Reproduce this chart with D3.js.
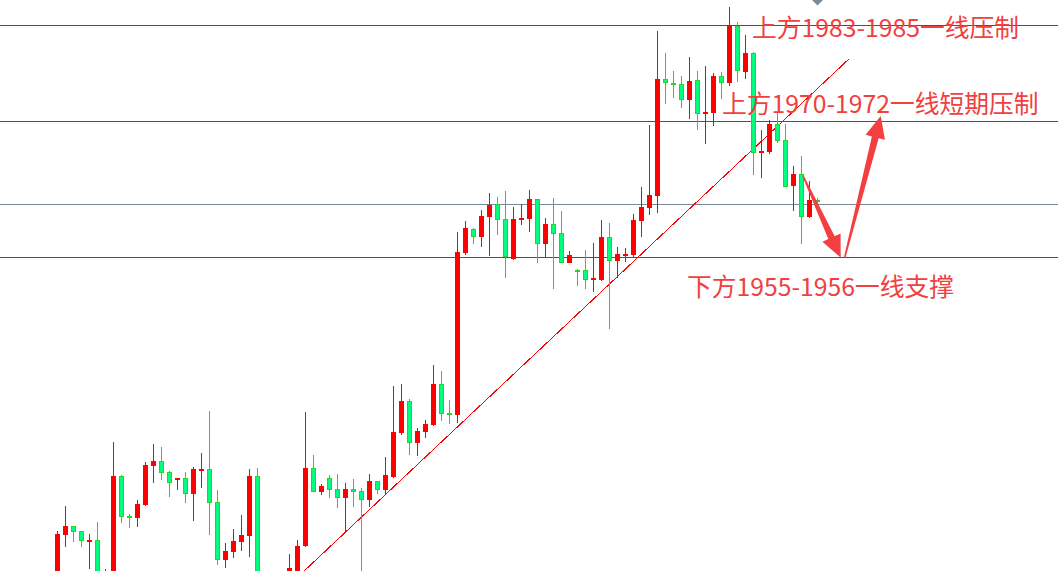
<!DOCTYPE html>
<html><head><meta charset="utf-8">
<script src="https://cdn.jsdelivr.net/npm/d3@7"></script>
<style>html,body{margin:0;padding:0;background:#fff;overflow:hidden}</style>
</head><body><svg id="c" width="1058" height="571"></svg>
<script>
const opens=[1913.3,1920.1,1921.3,1920.6,1919.3,1919.5,1912.6,1913,1927.5,1922.5,
1922.3,1923.9,1928.8,1929.4,1928,1927,1927.3,1925.3,1928.1,1928.4,
1924.3,1917,1918,1919.3,1920,1927.5,1912,1910.5,1912.5,1914.5,
1915.1,1918.8,1928.5,1925.5,1927.3,1925.9,1924.8,1925.9,1925.6,1924.5,
1926.9,1925.8,1927.4,1932.9,1936.9,1931.6,1933,1933.9,1939,1935.4,
1935.1,1955.4,1958.4,1957.4,1959.9,1961.5,1959.6,1954.6,1959.5,1959.6,
1962.1,1956.5,1959,1957.9,1954.1,1953.3,1953.3,1952,1952,1957.4,
1954.4,1955.1,1955.1,1959.4,1961,1962.5,1977.1,1976.6,1976.5,1974.5,
1977,1972.8,1972.9,1977.5,1976.6,1983.8,1978,1980.4,1967.9,1968,
1971.5,1969.5,1963.8,1965.3,1959.9,1962];
const highs=[1920.6,1923.8,1921.3,1920.6,1920.3,1921.8,1915.9,1931.8,1927.6,1922.8,
1924.5,1929.3,1931.5,1931.1,1928.1,1927.3,1928,1928.6,1930.4,1935.6,
1925.8,1919.1,1920.9,1922.6,1928.4,1928.5,1912.6,1913.3,1914.8,1917.8,
1919.5,1935.5,1930.1,1926.5,1927.6,1927.8,1926.6,1927.1,1926,1927.8,
1926.9,1929.9,1938.8,1939,1937.1,1933.5,1934.5,1941.4,1940.6,1937,
1958,1959.4,1958.5,1960.8,1962.9,1962.4,1963.1,1961.1,1961.5,1963.3,
1962.1,1959.8,1962.3,1960.6,1955.6,1953.4,1955.8,1956.6,1959.5,1959.1,
1956.1,1956,1960.3,1963.6,1971.4,1983.1,1980.4,1978.1,1977.5,1979.9,
1978.1,1978.8,1977.9,1978,1986.1,1984.3,1982.6,1980.5,1970.8,1972,
1972.9,1971.5,1966.3,1967.5,1964.4,1962.3];
const lows=[1912,1918.6,1919.3,1918.6,1915.9,1912,1912,1912,1921.6,1921,
1921.1,1923.8,1926.6,1927,1924.9,1925.8,1924.1,1921.9,1926,1920.1,
1916.4,1916,1917.3,1918.1,1917.4,1910.8,1908.9,1909.5,1912,1913.3,
1914.5,1918.6,1925.5,1925.1,1924.8,1923.5,1920.4,1923.6,1912,1923.6,
1925.3,1925.3,1927.3,1932.6,1930.1,1930,1932.3,1933.8,1934.4,1934,
1934.1,1955.1,1956.5,1956.1,1955,1957.6,1952.3,1954.5,1958.9,1958,
1954.1,1954.9,1950.9,1954.1,1954.1,1951.3,1950.9,1950.5,1951.9,1945.9,
1952.3,1954.3,1954.8,1957.4,1960.1,1960.4,1974,1974.8,1973.5,1972.1,
1970.8,1969,1971.3,1974.6,1976.3,1976.8,1977.1,1965.1,1964.8,1967.8,
1969.1,1963.6,1960.6,1956.5,1959.8,1961.5];
const closes=[1920.3,1921.3,1920.5,1919.4,1919.5,1913.3,1915.1,1927.5,1922.4,1922.3,
1924,1928.9,1929.4,1927.9,1926.6,1927.3,1925.3,1928.4,1928.4,1924.1,
1917,1918.1,1919.4,1920.1,1927.5,1912,1910.1,1912,1914.3,1916,
1918.8,1928.5,1925.5,1926.3,1925.8,1924.8,1925.9,1925.5,1924.5,1926.9,
1925.8,1927.6,1933,1936.9,1931.6,1933.1,1934,1939,1935.3,1935.1,
1955.5,1958.5,1957.4,1960,1961.4,1959.5,1954.9,1959.6,1959.8,1962.1,
1956.5,1959,1957.8,1954.1,1955.1,1953.1,1952,1952.3,1957.4,1954.4,
1955.3,1955.3,1959.5,1961.1,1962.6,1977.1,1976.6,1976.4,1974.5,1976.9,
1972.8,1973,1977.5,1976.6,1983.9,1978.1,1980.4,1967.9,1968.1,1971.5,
1969.4,1963.6,1965.3,1959.9,1962,1961.8];

const levels=[1983.9,1971.9,1961.5,1954.9];
const levelKinds=["r","r","g","r"];
const labels=["上方1983-1985一线压制","上方1970-1972一线短期压制","下方1955-1956一线支撑"];
const labelLevels=[1983.9,1971.9,1954.9];
const trendPts=[[30.8,1915.6],[98.9,1979.6]];
const arrowDown=[[93.2,1965],[97.9,1954.8]];
const arrowUp=[[98.4,1954.8],[102.9,1972.5]];

const W=1058,H=571;
const svg=d3.select("#c");
const x=d3.scaleLinear().domain([0,95]).range([57.5,817.5]);
const y=d3.scaleLinear().domain([1987,1915.625]).range([0,571]);

const RED="#ff0000", GFILL="#00ff7f", GSTROKE="#1fd81f", LINE_RED="#dc1414", LINE_GREY="#7a8894", TXT="#f04040";

const data=opens.map((o,i)=>({i,o,h:highs[i],l:lows[i],c:closes[i],up:closes[i]>=o}));

svg.append("g").selectAll("line").data(levels).join("line")
  .attr("x1",0).attr("x2",W)
  .attr("y1",d=>Math.round(y(d))+0.5).attr("y2",d=>Math.round(y(d))+0.5)
  .attr("stroke",(d,i)=>levelKinds[i]==="g"?LINE_GREY:LINE_RED).attr("stroke-width",1);

svg.append("path").datum(trendPts)
  .attr("d",d3.line().x(d=>x(d[0])).y(d=>y(d[1])))
  .attr("stroke",RED).attr("stroke-width",1).attr("fill","none").attr("shape-rendering","crispEdges");

const g=svg.append("g");
g.selectAll("line.w").data(data).join("line").attr("class","w")
  .attr("x1",d=>x(d.i)).attr("x2",d=>x(d.i))
  .attr("y1",d=>Math.round(y(d.h))).attr("y2",d=>Math.round(y(d.l)))
  .attr("stroke",d=>d.up?RED:GSTROKE).attr("stroke-width",1);
g.selectAll("rect.b").data(data).join("rect").attr("class","b")
  .each(function(d){
    const t=Math.round(y(Math.max(d.o,d.c))), b=Math.round(y(Math.min(d.o,d.c)));
    const hgt=Math.max(b-t,2);
    const el=d3.select(this);
    if(d.up){
      el.attr("x",x(d.i)-2.5).attr("width",5).attr("y",t).attr("height",hgt).attr("fill",RED);
    } else {
      el.attr("x",x(d.i)-2).attr("width",4).attr("y",t+0.5).attr("height",hgt-1)
        .attr("fill",GFILL).attr("stroke",GSTROKE).attr("stroke-width",1);
    }
  });

const lx=x(data.length-1);
svg.append("path").attr("d",`M${lx-5.5},0L${lx+5.5},0L${lx},5.5Z`).attr("fill","#7d8a96");

function arrowPath(p0,p1){
  const a=[x(p0[0]),y(p0[1])], b=[x(p1[0]),y(p1[1])];
  const dx=b[0]-a[0], dy=b[1]-a[1], L=Math.hypot(dx,dy);
  const ux=dx/L, uy=dy/L, nx=-uy, ny=ux;
  const hl=22, hw=10, sw=3.5, tw=0.8;
  const bc=[b[0]-ux*hl,b[1]-uy*hl];
  const pts=[[a[0]+nx*tw,a[1]+ny*tw],[bc[0]+nx*sw,bc[1]+ny*sw],[bc[0]+nx*hw,bc[1]+ny*hw],b,
    [bc[0]-nx*hw,bc[1]-ny*hw],[bc[0]-nx*sw,bc[1]-ny*sw],[a[0]-nx*tw,a[1]-ny*tw]];
  return "M"+pts.map(p=>p[0].toFixed(2)+","+p[1].toFixed(2)).join("L")+"Z";
}
svg.append("g").selectAll("path").data([arrowDown,arrowUp]).join("path")
  .attr("d",d=>arrowPath(d[0],d[1])).attr("fill","#f33f3f");

const labelPos=[[752,12.5],[722,-8],[687,39]];
svg.append("g").selectAll("text").data(labels).join("text")
  .attr("x",(d,i)=>labelPos[i][0])
  .attr("y",(d,i)=>y(labelLevels[i])+labelPos[i][1])
  .attr("font-family","'Noto Sans CJK SC','Noto Sans',sans-serif")
  .attr("font-size",24.75).attr("fill",TXT).text(d=>d);
</script></body></html>
